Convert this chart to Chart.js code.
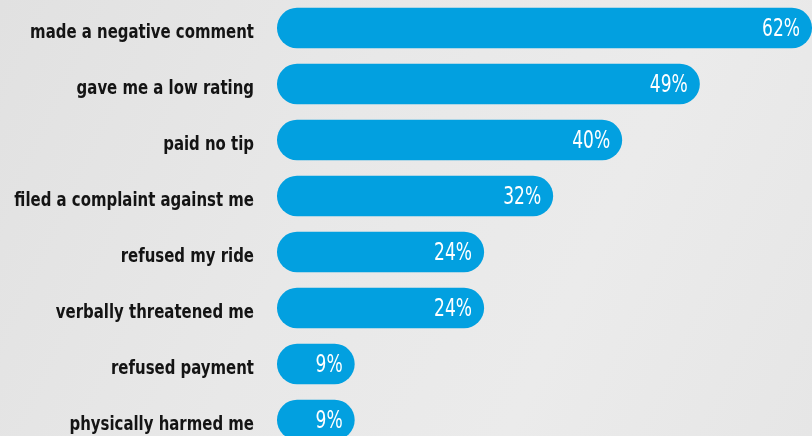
<!DOCTYPE html>
<html>
<head>
<meta charset="utf-8">
<script src="https://cdn.jsdelivr.net/npm/chart.js@4/dist/chart.umd.min.js"></script>
<style>
  html, body { margin: 0; padding: 0; overflow: hidden; }
  body {
    width: 812px; height: 436px;
    background: linear-gradient(115deg, #e1e1e1 0%, #e8e8e8 40%, #ebebeb 70%, #e6e6e6 100%);
  }
  canvas { display: block; }
</style>
</head>
<body>
<canvas id="chart" width="812" height="448"></canvas>
<script>
const CATEGORIES = [
  "made a negative comment",
  "gave me a low rating",
  "paid no tip",
  "filed a complaint against me",
  "refused my ride",
  "verbally threatened me",
  "refused payment",
  "physically harmed me",
];
const VALUES = [62, 49, 40, 32, 24, 24, 9, 9];

const BAR_BLUE = "#02a0e0";
const LABEL_FONT = "'DejaVu Sans', sans-serif";

// category names, right aligned left of the bars, in a tall narrow face
const categoryLabels = {
  id: "categoryLabels",
  afterDraw(chart) {
    const ctx = chart.ctx;
    const yScale = chart.scales.y;
    const sx = 0.83;
    ctx.save();
    ctx.fillStyle = "#141414";
    ctx.font = "normal bold condensed 20px " + LABEL_FONT;
    ctx.textAlign = "right";
    ctx.textBaseline = "alphabetic";
    ctx.scale(sx, 1);
    yScale.ticks.forEach((t, i) => {
      const y = yScale.getPixelForTick(i);
      ctx.fillText(CATEGORIES[i], 254 / sx, y + 9.5);
    });
    ctx.restore();
  },
};

// white value labels at the inner end of each bar
const valueLabels = {
  id: "valueLabels",
  afterDatasetsDraw(chart) {
    const ctx = chart.ctx;
    const meta = chart.getDatasetMeta(0);
    const sx = 0.76;
    ctx.save();
    ctx.fillStyle = "#ffffff";
    ctx.font = "normal 500 condensed 25px " + LABEL_FONT;
    ctx.textAlign = "right";
    ctx.textBaseline = "alphabetic";
    ctx.scale(sx, 1);
    meta.data.forEach((bar, i) => {
      ctx.fillText(VALUES[i] + "%", (bar.x - 12) / sx, bar.y + 7.5);
    });
    ctx.restore();
  },
};

new Chart(document.getElementById("chart"), {
  type: "bar",
  data: {
    labels: CATEGORIES,
    datasets: [{
      data: VALUES,
      backgroundColor: BAR_BLUE,
      borderRadius: 20,
      borderSkipped: false,
      barPercentage: 0.72,
      categoryPercentage: 1,
    }],
  },
  options: {
    indexAxis: "y",
    responsive: false,
    animation: false,
    layout: { padding: 0 },
    plugins: { legend: { display: false }, tooltip: { enabled: false } },
    scales: {
      x: {
        display: false,
        min: 0,
        max: 62,
      },
      y: {
        grid: { display: false, drawTicks: false },
        border: { display: false },
        ticks: { display: false },
        afterFit: (axis) => {
          axis.width = 277;
          axis.paddingTop = 0;
          axis.paddingBottom = 0;
        },
      },
    },
  },
  plugins: [valueLabels, categoryLabels],
});
</script>
</body>
</html>
